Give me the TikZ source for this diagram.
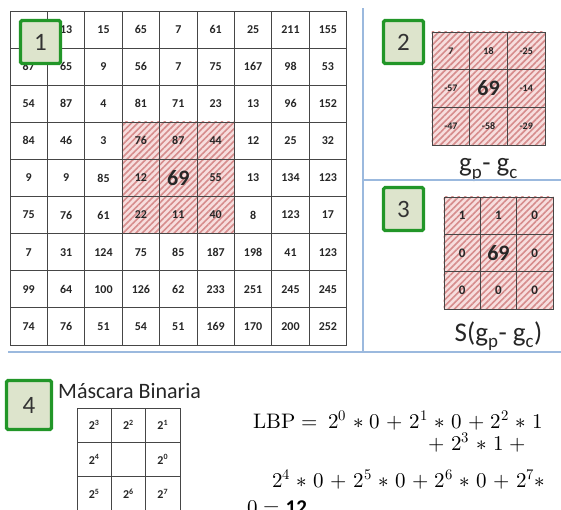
\documentclass[tikz,border=0pt]{standalone}
\usepackage{fontspec}
\usepackage{unicode-math}
\setmainfont{Carlito}
\setmathfont{Latin Modern Math}
\usetikzlibrary{positioning, patterns.meta, backgrounds}

\definecolor{hatchpink}{RGB}{247,222,222}
\definecolor{hatchred}{RGB}{214,140,140}
\definecolor{sepblue}{RGB}{155,185,222}
\definecolor{taggreen}{RGB}{34,150,40}
\definecolor{tagfill}{RGB}{221,228,204}
\definecolor{gridgray}{RGB}{70,70,70}

\newcommand{\centerval}[1]{{\fontsize{22}{24}\selectfont #1}}
\newcommand{\lbpmath}[1]{$\medmuskip=5.5mu\relax #1$}

\begin{document}
\begin{tikzpicture}[
    x=1pt, y=-1pt,
    cell/.style={draw=gridgray, line width=0.7pt, inner sep=0pt, minimum width=37.4pt, minimum height=37.1pt, font=\fontsize{12}{14}\selectfont\bfseries, text=black!85},
    diffcell/.style={cell, minimum width=37.7pt, minimum height=37.7pt, font=\fontsize{10}{12}\selectfont\bfseries},
    signcell/.style={cell, minimum width=36.3pt, minimum height=37.3pt, font=\fontsize{13}{15}\selectfont\bfseries},
    maskcell/.style={cell, minimum width=34.3pt, minimum height=34.3pt, font=\fontsize{12}{14}\selectfont\bfseries},
    hatch/.style={fill=hatchpink, postaction={pattern={Lines[angle=45, distance=4.5pt, line width=1.6pt]}, pattern color=hatchred}},
    tag/.style={draw=taggreen, line width=3.2pt, fill=tagfill, rounded corners=1.5pt, minimum width=40pt, minimum height=43pt, inner sep=0pt, font=\fontsize{25}{28}\selectfont, text=black!80},
    caption/.style={font=\fontsize{27}{30}\selectfont, text=black!85, inner sep=0pt},
    eqline/.style={font=\fontsize{21}{24}\selectfont, inner sep=0pt, anchor=base west},
    sep/.style={draw=sepblue, line width=2pt}
]
\clip (0,0) rectangle (561,509);

% Image grid
\foreach \vals [count=\r] in {
    {{},13,15,65,7,61,25,211,155},
    {87,65,9,56,7,75,167,98,53},
    {54,87,4,81,71,23,13,96,152},
    {84,46,3,76,87,44,12,25,32},
    {9,9,85,12,\centerval{69},55,13,134,123},
    {75,76,61,22,11,40,8,123,17},
    {7,31,124,75,85,187,198,41,123},
    {99,64,100,126,62,233,251,245,245},
    {74,76,51,54,51,169,170,200,252}}{
  \foreach \v [count=\c] in \vals
    \node[cell] (m-\r-\c) at ({10+37.4*(\c-0.5)}, {11+37.1*(\r-0.5)}) {\v};
}

% Differences g_p - g_c
\foreach \vals [count=\r] in {{7,18,-25},{-57,\centerval{69},-14},{-47,-58,-29}}{
  \foreach \v [count=\c] in \vals
    \node[diffcell] (g-\r-\c) at ({432+37.7*(\c-0.5)}, {32+37.7*(\r-0.5)}) {\v};
}
\node[caption, below=13pt of g-3-2] (gdiff) {g\textsubscript{p}- g\textsubscript{c}};

% Thresholded S(g_p - g_c)
\foreach \vals [count=\r] in {{1,1,0},{0,\centerval{69},0},{0,0,0}}{
  \foreach \v [count=\c] in \vals
    \node[signcell] (s-\r-\c) at ({444+36.3*(\c-0.5)}, {197+37.3*(\r-0.5)}) {\v};
}
\node[caption, below=12pt of s-3-2] (sdiff) {S(g\textsubscript{p}- g\textsubscript{c})};

% Hatched neighbourhoods
\begin{scope}[on background layer]
  \fill[hatch] (m-4-4.north west) rectangle (m-6-6.south east);
  \fill[hatch] (g-1-1.north west) rectangle (g-3-3.south east);
  \fill[hatch] (s-1-1.north west) rectangle (s-3-3.south east);
\end{scope}

% Binary mask
\foreach \vals [count=\r] in {
    {2\textsuperscript{3},2\textsuperscript{2},2\textsuperscript{1}},
    {2\textsuperscript{4},{},2\textsuperscript{0}},
    {2\textsuperscript{5},2\textsuperscript{6},2\textsuperscript{7}}}{
  \foreach \v [count=\c] in \vals
    \node[maskcell] (k-\r-\c) at ({77+34.3*(\c-0.5)}, {408+34.3*(\r-0.5)}) {\v};
}
\node[font=\fontsize{22}{24}\selectfont, text=black!85, inner sep=0pt, anchor=base west] (mask) at (58,398) {Máscara Binaria};

% Separators
\coordinate (vtop) at (363,8);
\coordinate (vbot) at (363,352);
\coordinate (hleft) at (8,352);
\coordinate (hright) at (561,352);
\coordinate (mleft) at (363,180);
\coordinate (mright) at (561,180);
\draw[sep] (vtop) -- (vbot);
\draw[sep] (hleft) -- (hright);
\draw[sep] (mleft) -- (mright);

% Step tags
\node[tag] (t1) at (40.5,42) {1};
\node[tag] (t2) at (403.5,42) {2};
\node[tag] (t3) at (403.5,209) {3};
\node[tag, minimum width=45pt, minimum height=49pt] (t4) at (29,405) {4};

% LBP value
\node[eqline] (eq1) at (253,428) {\lbpmath{\symup{LBP} =\ 2^0 \ast 0 + 2^1 \ast 0 + 2^2 \ast 1}};
\node[eqline] (eq2) at (422,450) {\lbpmath{{}+ 2^3 \ast 1 +{}}};
\node[eqline] (eq3) at (272,487) {\lbpmath{2^4 \ast 0 + 2^5 \ast 0 + 2^6 \ast 0 + 2^7 \ast}};
\node[eqline] (eq4) at (247,514) {\lbpmath{0 = \mathbf{12}}};

\end{tikzpicture}
\end{document}
